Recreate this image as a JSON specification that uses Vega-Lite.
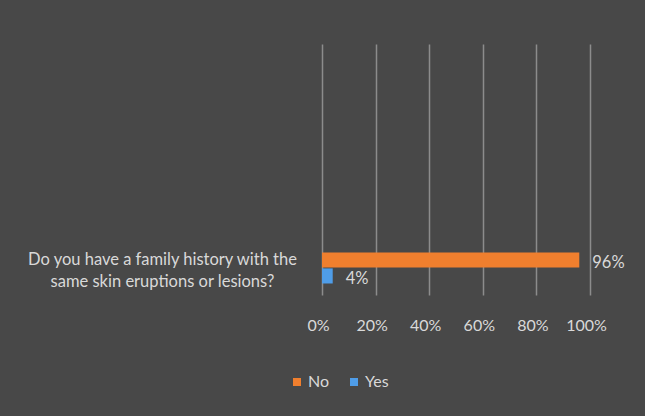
{
  "$schema": "https://vega.github.io/schema/vega-lite/v6.json",
  "autosize": {"type": "none"},
  "width": 268,
  "height": 251,
  "padding": {"left": 322, "top": 44, "right": 55, "bottom": 121},
  "background": "#484848",
  "config": {
    "font": "Lato",
    "view": {"stroke": null},
    "axis": {"labelFont": "Lato", "labelColor": "#d9d9d9", "labelFontSize": 16}
  },
  "data": {
    "values": [
      {"question": "Do you have a family history with the same skin eruptions or lesions?", "answer": "No", "share": 0.96, "label": "96%"},
      {"question": "Do you have a family history with the same skin eruptions or lesions?", "answer": "Yes", "share": 0.04, "label": "4%"}
    ]
  },
  "encoding": {
    "y": {
      "field": "question",
      "type": "nominal",
      "scale": {"paddingInner": 0.452, "paddingOuter": 1, "align": 1},
      "axis": {
        "title": null,
        "domain": false,
        "ticks": false,
        "labelPadding": 160,
        "labelLimit": 400,
        "labelAlign": "center",
        "labelOffset": -8,
        "labelFontSize": 16.5,
        "labelLineHeight": 22,
        "labelExpr": "[slice(datum.label, 0, 37), slice(datum.label, 38)]"
      }
    },
    "yOffset": {
      "field": "answer",
      "type": "nominal",
      "sort": ["No", "Yes"],
      "scale": {"paddingInner": 0.05, "paddingOuter": 0.725}
    },
    "x": {
      "field": "share",
      "type": "quantitative",
      "scale": {"domain": [0, 1]},
      "axis": {
        "title": null,
        "format": ".0%",
        "values": [0, 0.2, 0.4, 0.6, 0.8, 1],
        "domain": false,
        "ticks": false,
        "grid": true,
        "gridColor": "#8c8c8c",
        "gridWidth": 1.5,
        "labelPadding": 22,
        "labelOffset": -4,
        "labelFlush": false
      }
    }
  },
  "layer": [
    {
      "mark": {"type": "bar"},
      "encoding": {
        "color": {
          "field": "answer",
          "type": "nominal",
          "scale": {"domain": ["No", "Yes"], "range": ["#F07F2E", "#4F9DE8"]},
          "legend": {
            "title": null,
            "orient": "none",
            "direction": "horizontal",
            "legendX": -33,
            "legendY": 330,
            "symbolType": "square",
            "symbolSize": 64,
            "symbolStrokeWidth": 0,
            "labelFont": "Lato",
            "labelFontSize": 16,
            "labelColor": "#d9d9d9",
            "labelOffset": 3,
            "columnPadding": 16
          }
        }
      }
    },
    {
      "mark": {"type": "text", "align": "left", "baseline": "middle", "dx": 13, "dy": 3, "fontSize": 16.5, "font": "Lato", "color": "#d9d9d9"},
      "encoding": {
        "text": {"field": "label", "type": "nominal"}
      }
    }
  ]
}
